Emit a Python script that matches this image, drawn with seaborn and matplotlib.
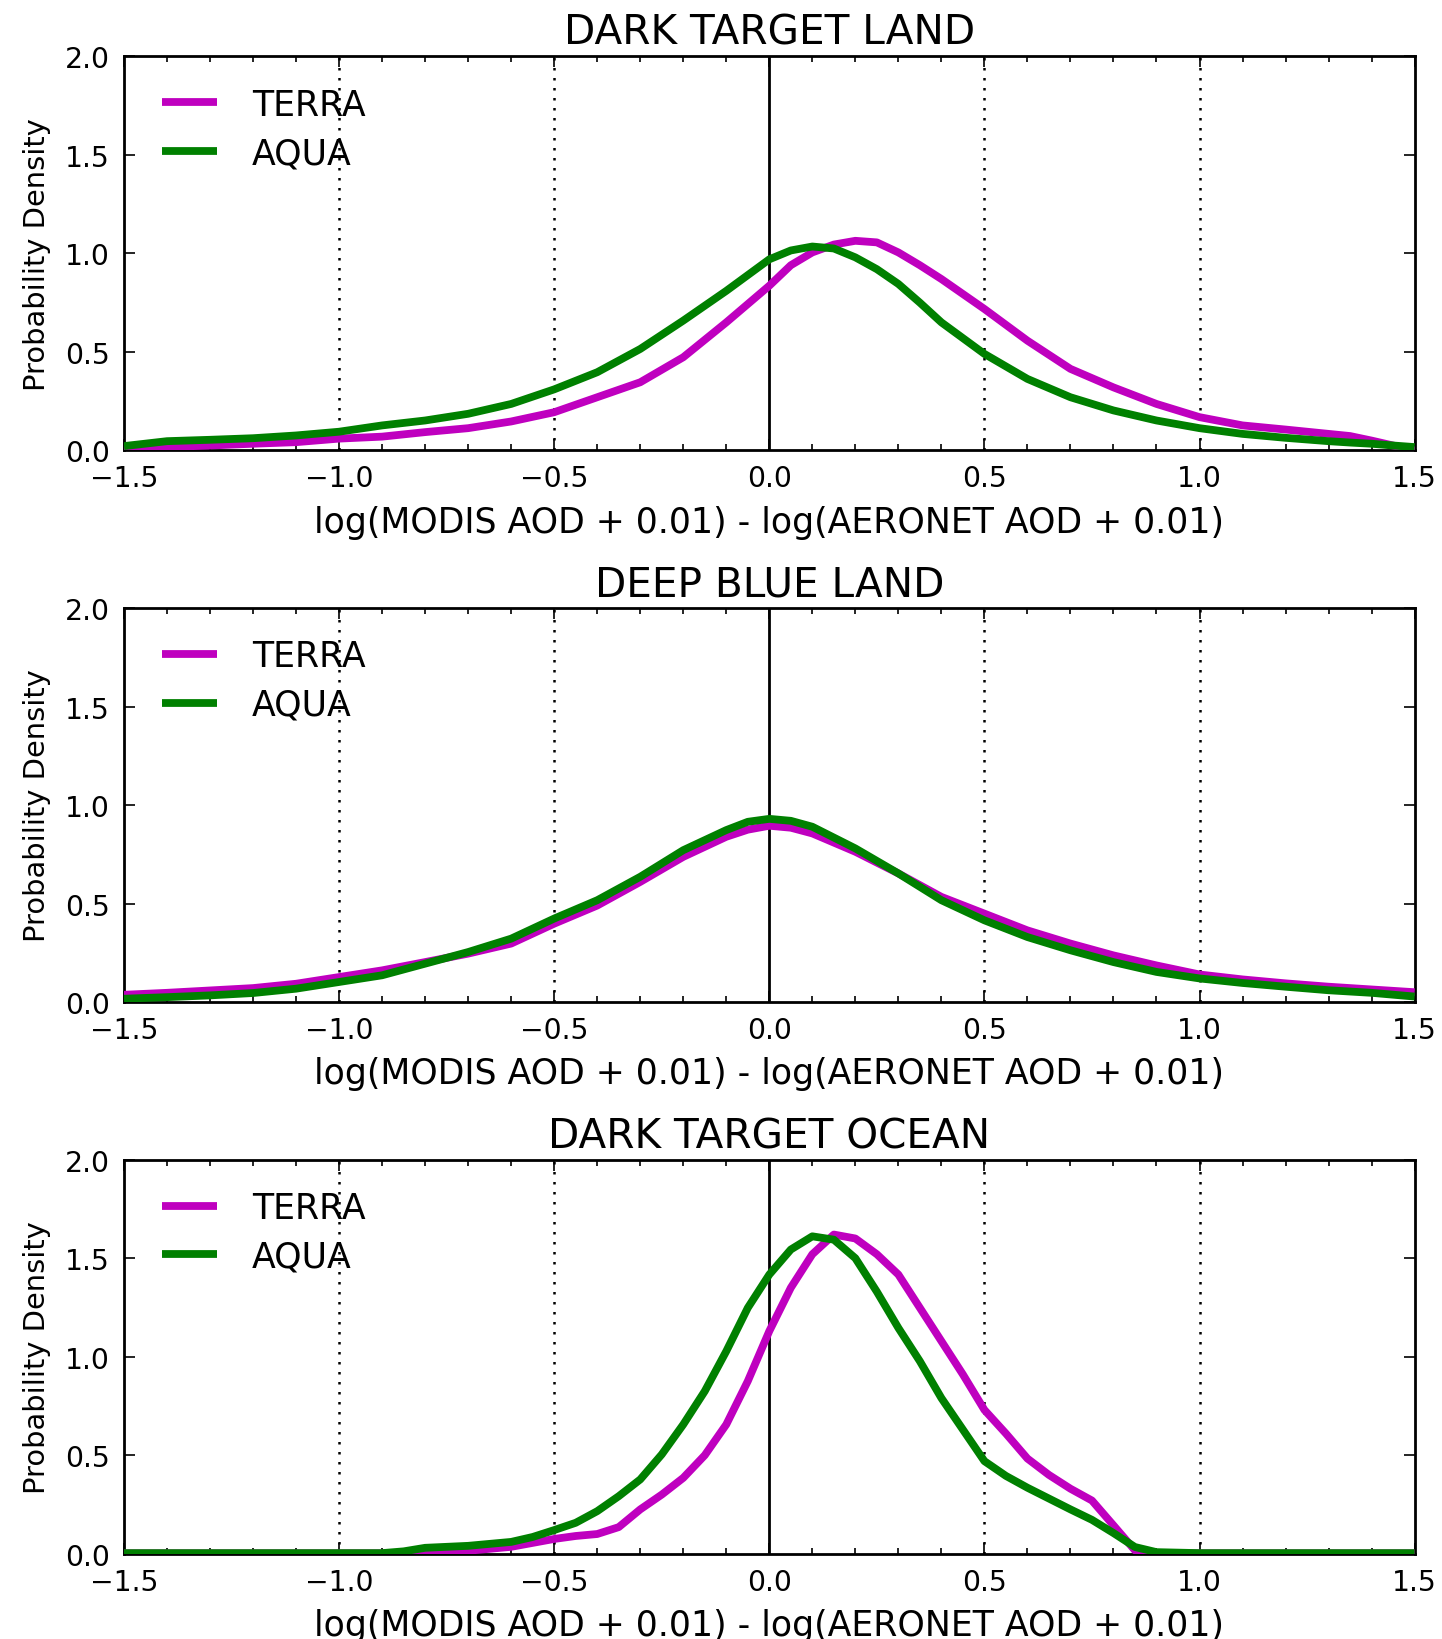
import numpy as np
import pandas as pd
import matplotlib
matplotlib.use("Agg")
import matplotlib.pyplot as plt
import seaborn as sns
from matplotlib.lines import Line2D
from matplotlib.ticker import MultipleLocator, FormatStrFormatter

# ---------------- data ----------------
titles = ["DARK TARGET LAND", "DEEP BLUE LAND", "DARK TARGET OCEAN"]
series_names = ["TERRA", "AQUA"]
xlabel_text = "log(MODIS AOD + 0.01) - log(AERONET AOD + 0.01)"
ylabel_text = "Probability Density"
x_ticks = [-1.5, -1.0, -0.5, 0.0, 0.5, 1.0, 1.5]
y_ticks = [0.0, 0.5, 1.0, 1.5, 2.0]

# Panel 1: Dark Target Land
x_dtl = [-1.5, -1.4, -1.3, -1.2, -1.1, -1.0, -0.9, -0.8, -0.7, -0.6, -0.5, -0.4, -0.3, -0.2, -0.1,
         0.0, 0.05, 0.1, 0.15, 0.2, 0.25, 0.3, 0.35,
         0.4, 0.5, 0.6, 0.7, 0.8, 0.9, 1.0, 1.1, 1.2, 1.3,
         1.35, 1.4, 1.45, 1.5]
terra_dtl = [0.005, 0.017, 0.025, 0.034, 0.042, 0.06, 0.07, 0.093, 0.113, 0.147, 0.194, 0.27, 0.346, 0.473, 0.65,
             0.836, 0.94, 1.005, 1.045, 1.064, 1.056, 1.005, 0.94,
             0.87, 0.718, 0.557, 0.414, 0.32, 0.236, 0.169, 0.127, 0.106, 0.084,
             0.073, 0.05, 0.025, 0.0]
aqua_dtl = [0.022, 0.047, 0.054, 0.062, 0.076, 0.095, 0.127, 0.152, 0.186, 0.236, 0.31, 0.397, 0.515, 0.659, 0.81,
            0.97, 1.015, 1.035, 1.025, 0.98, 0.92, 0.845, 0.75,
            0.65, 0.49, 0.363, 0.27, 0.203, 0.152, 0.113, 0.084, 0.064, 0.047,
            0.04, 0.034, 0.025, 0.017]

# Panel 2: Deep Blue Land
x_dbl = [-1.5, -1.4, -1.3, -1.2, -1.1, -1.0, -0.9, -0.8, -0.7, -0.6, -0.5, -0.4, -0.3, -0.2, -0.1,
         -0.05, 0.0, 0.05, 0.1, 0.2, 0.3, 0.4, 0.5, 0.6, 0.7, 0.8, 0.9, 1.0, 1.1, 1.2, 1.3, 1.4, 1.5]
terra_dbl = [0.037, 0.047, 0.059, 0.071, 0.093, 0.127, 0.161, 0.203, 0.246, 0.297, 0.398, 0.49, 0.61, 0.737, 0.839,
             0.875, 0.895, 0.885, 0.856, 0.763, 0.653, 0.534, 0.449, 0.364, 0.297, 0.237, 0.186, 0.14, 0.115,
             0.095, 0.078, 0.064, 0.05]
aqua_dbl = [0.017, 0.025, 0.034, 0.046, 0.068, 0.102, 0.136, 0.195, 0.254, 0.322, 0.424, 0.517, 0.636, 0.771, 0.873,
            0.915, 0.93, 0.92, 0.89, 0.78, 0.653, 0.517, 0.415, 0.33, 0.263, 0.203, 0.153, 0.12, 0.097,
            0.078, 0.06, 0.047, 0.028]

# Panel 3: Dark Target Ocean
x_dto = [-1.5, -1.4, -1.3, -1.2, -1.1, -1.0, -0.9,
         -0.85, -0.8, -0.75, -0.7, -0.65, -0.6, -0.55, -0.5, -0.45, -0.4,
         -0.35, -0.3, -0.25, -0.2, -0.15, -0.1, -0.05, 0.0,
         0.05, 0.1, 0.15, 0.2, 0.25, 0.3, 0.35, 0.4, 0.45, 0.5,
         0.55, 0.6, 0.65, 0.7, 0.75, 0.8, 0.85, 0.9,
         1.0, 1.1, 1.2, 1.3, 1.4, 1.5]
terra_dto = [0.002, 0.002, 0.002, 0.002, 0.002, 0.002, 0.002,
             0.002, 0.003, 0.008, 0.015, 0.025, 0.035, 0.055, 0.075, 0.09, 0.10,
             0.135, 0.225, 0.30, 0.385, 0.50, 0.656, 0.876, 1.13,
             1.35, 1.52, 1.62, 1.60, 1.52, 1.417, 1.248, 1.079, 0.91, 0.73,
             0.61, 0.483, 0.40, 0.33, 0.27, 0.144, 0.017, 0.003,
             0.002, 0.002, 0.002, 0.002, 0.002, 0.002]
aqua_dto = [0.003, 0.003, 0.003, 0.003, 0.003, 0.003, 0.003,
            0.012, 0.03, 0.035, 0.04, 0.05, 0.06, 0.085, 0.12, 0.157, 0.216,
            0.292, 0.377, 0.504, 0.656, 0.825, 1.028, 1.248, 1.417,
            1.544, 1.611, 1.594, 1.50, 1.33, 1.146, 0.977, 0.79, 0.63, 0.47,
            0.395, 0.335, 0.28, 0.225, 0.172, 0.105, 0.034, 0.008,
            0.003, 0.003, 0.003, 0.003, 0.003, 0.003]

panels = [
    (x_dtl, terra_dtl, aqua_dtl),
    (x_dbl, terra_dbl, aqua_dbl),
    (x_dto, terra_dto, aqua_dto),
]

colors = {"TERRA": "#bf00bf", "AQUA": "#008000"}

# ---------------- style ----------------
sns.set_style("ticks")
plt.rcParams.update({
    "font.family": ["DejaVu Sans"],
    "text.color": "black",
    "axes.labelcolor": "black",
    "axes.titlecolor": "black",
    "axes.linewidth": 1.0,
    "axes.edgecolor": "black",
    "xtick.direction": "in",
    "ytick.direction": "in",
    "xtick.top": True,
    "ytick.right": True,
    "xtick.major.size": 4,
    "ytick.major.size": 4,
    "xtick.minor.size": 2,
    "xtick.major.width": 0.6,
    "ytick.major.width": 0.6,
    "xtick.minor.width": 0.6,
    "xtick.major.pad": 5,
    "ytick.major.pad": 5,
    "xtick.color": "black",
    "ytick.color": "black",
    "xtick.labelcolor": "black",
    "ytick.labelcolor": "black",
    "lines.solid_capstyle": "butt",
    "lines.solid_joinstyle": "round",
    "axes.unicode_minus": True,
})

fig, axes = plt.subplots(3, 1, figsize=(7.21, 8.2), dpi=200)
fig.subplots_adjust(left=0.086, right=0.981, top=0.965, bottom=0.052, hspace=0.40)

LW = 2.8
for ax, title, (xs, terra, aqua) in zip(axes, titles, panels):
    df = pd.DataFrame({
        "x": list(xs) + list(xs),
        "density": list(terra) + list(aqua),
        "sat": ["TERRA"] * len(xs) + ["AQUA"] * len(xs),
    })
    for v in [-1.0, -0.5, 0.5, 1.0]:
        ax.axvline(v, color="black", lw=0.9, linestyle=(0, (1, 3)), zorder=1)
    ax.axvline(0.0, color="black", lw=1.0, zorder=1)
    sns.lineplot(data=df, x="x", y="density", hue="sat", hue_order=series_names,
                 palette=colors, linewidth=LW, estimator=None, sort=True,
                 legend=False, ax=ax, zorder=3)
    for ln in ax.lines:
        ln.set_solid_joinstyle("round")
    ax.set_xlim(-1.5, 1.5)
    ax.set_ylim(0, 2.0)
    ax.set_xticks(x_ticks)
    ax.set_yticks(y_ticks)
    ax.xaxis.set_minor_locator(MultipleLocator(0.1))
    ax.yaxis.set_major_formatter(FormatStrFormatter("%.1f"))
    ax.tick_params(axis="both", which="major", labelsize=10.2, colors="black")
    ax.set_title(title, fontsize=14.6, pad=4.5, color="black")
    ax.set_xlabel(xlabel_text, fontsize=12.5, labelpad=4.5, color="black")
    ax.set_ylabel(ylabel_text, fontsize=10.4, labelpad=5, color="black")
    for sp in ax.spines.values():
        sp.set_visible(True)
        sp.set_linewidth(1.0)
        sp.set_color("black")
    handles = [Line2D([0], [0], color=colors[n], lw=LW, solid_capstyle="butt") for n in series_names]
    ax.legend(handles, series_names, loc="upper left", bbox_to_anchor=(0.005, 1.0),
              frameon=False, fontsize=12.5,
              handlelength=1.6, handletextpad=1.0, labelspacing=0.42,
              borderaxespad=0.5, labelcolor="black")

fig.savefig("out.png", dpi=200)
